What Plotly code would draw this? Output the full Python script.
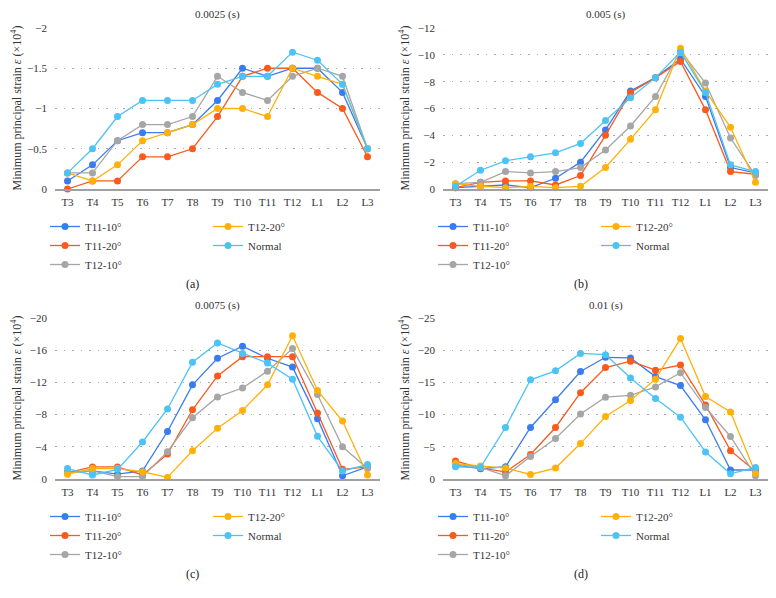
import plotly.graph_objects as go

# ==========================================
# Data (minimum principal strain, x10^4)
# ==========================================
levels = ["T3", "T4", "T5", "T6", "T7", "T8", "T9", "T10", "T11", "T12", "L1", "L2", "L3"]
series_names = ["T11-10°", "T11-20°", "T12-10°", "T12-20°", "Normal"]
panel_titles = ["0.0025 (s)", "0.005 (s)", "0.0075 (s)", "0.01 (s)"]
panel_labels = ["(a)", "(b)", "(c)", "(d)"]

# (a) 0.0025 s
a_t11_10 = [-0.1, -0.3, -0.6, -0.7, -0.7, -0.8, -1.1, -1.5, -1.4, -1.5, -1.5, -1.2, -0.5]
a_t11_20 = [0.0, -0.1, -0.1, -0.4, -0.4, -0.5, -0.9, -1.4, -1.5, -1.5, -1.2, -1.0, -0.4]
a_t12_10 = [-0.2, -0.2, -0.6, -0.8, -0.8, -0.9, -1.4, -1.2, -1.1, -1.4, -1.5, -1.4, -0.5]
a_t12_20 = [-0.2, -0.1, -0.3, -0.6, -0.7, -0.8, -1.0, -1.0, -0.9, -1.5, -1.4, -1.3, -0.5]
a_normal = [-0.2, -0.5, -0.9, -1.1, -1.1, -1.1, -1.3, -1.4, -1.4, -1.7, -1.6, -1.3, -0.5]

# (b) 0.005 s
b_t11_10 = [-0.1, -0.2, -0.3, -0.1, -0.8, -2.0, -4.4, -7.3, -8.3, -9.7, -6.9, -1.6, -1.2]
b_t11_20 = [-0.1, -0.5, -0.6, -0.6, -0.3, -1.0, -4.0, -7.2, -8.3, -9.5, -5.9, -1.3, -1.1]
b_t12_10 = [-0.4, -0.5, -1.3, -1.2, -1.3, -1.6, -2.9, -4.7, -6.9, -10.3, -7.9, -3.8, -1.0]
b_t12_20 = [-0.4, -0.2, -0.1, -0.2, -0.1, -0.2, -1.6, -3.7, -5.9, -10.5, -7.3, -4.6, -0.5]
b_normal = [-0.2, -1.4, -2.1, -2.4, -2.7, -3.4, -5.1, -6.8, -8.3, -10.2, -7.2, -1.8, -1.3]

# (c) 0.0075 s
c_t11_10 = [-0.8, -1.0, -0.6, -1.0, -5.9, -11.7, -15.0, -16.5, -15.0, -13.9, -7.5, -0.4, -1.5]
c_t11_20 = [-0.8, -1.5, -1.5, -0.5, -3.1, -8.6, -12.8, -15.2, -15.2, -15.2, -8.2, -1.2, -1.5]
c_t12_10 = [-0.8, -1.0, -0.3, -0.3, -3.4, -7.6, -10.2, -11.3, -13.4, -16.2, -10.5, -4.0, -1.3]
c_t12_20 = [-0.6, -1.3, -1.3, -0.9, -0.2, -3.5, -6.3, -8.5, -11.7, -17.8, -11.0, -7.2, -0.5]
c_normal = [-1.3, -0.5, -1.2, -4.6, -8.7, -14.5, -16.9, -15.6, -14.4, -12.4, -5.3, -1.0, -1.8]

# (d) 0.01 s
d_t11_10 = [-2.1, -1.6, -1.9, -8.0, -12.3, -16.7, -18.9, -18.8, -15.9, -14.5, -9.2, -1.4, -1.4]
d_t11_20 = [-2.8, -1.7, -1.1, -3.8, -8.0, -13.4, -17.3, -18.3, -16.9, -17.7, -11.5, -4.4, -1.2]
d_t12_10 = [-2.3, -1.8, -0.5, -3.5, -6.3, -10.1, -12.7, -13.0, -14.3, -16.5, -11.1, -6.6, -0.5]
d_t12_20 = [-2.4, -2.0, -1.7, -0.7, -1.7, -5.5, -9.7, -12.2, -15.5, -21.8, -12.8, -10.4, -0.9]
d_normal = [-1.9, -1.8, -8.0, -15.4, -16.8, -19.5, -19.3, -15.7, -12.5, -9.6, -4.2, -0.8, -1.8]

panel_data = [
    [a_t11_10, a_t11_20, a_t12_10, a_t12_20, a_normal],
    [b_t11_10, b_t11_20, b_t12_10, b_t12_20, b_normal],
    [c_t11_10, c_t11_20, c_t12_10, c_t12_20, c_normal],
    [d_t11_10, d_t11_20, d_t12_10, d_t12_20, d_normal],
]
y_max = [-2, -12, -20, -25]
y_step = [0.5, 2, 4, 5]

# ==========================================
# Styling
# ==========================================
W, H = 776, 598
OFF = 8   # page body margin of the html file
FONT = "Liberation Serif"
TXT = "#333333"
colors = ["#3a7cf0", "#fa5a1c", "#a6a6a6", "#ffb10a", "#4cc3f5"]

# panel geometry in screen px: (left, right, top, bottom)
boxes = [
    (55, 380, 28, 189),
    (443, 768, 28, 189),
    (55, 380, 318, 479),
    (443, 768, 318, 479),
]

def px_x(v):
    return (v - OFF) / W

def px_y(v):
    return 1 - (v - OFF) / H

fig = go.Figure()
annotations = []
layout_axes = {}

for p in range(4):
    left, right, top, bottom = boxes[p]
    sfx = "" if p == 0 else str(p + 1)
    xa, ya = "x" + sfx, "y" + sfx

    for s in range(5):
        # first legend column: first three series, second column: last two
        leg_idx = 2 * p + (1 if s >= 3 else 0)
        leg = "legend" if leg_idx == 0 else "legend" + str(leg_idx + 1)
        fig.add_trace(go.Scatter(
            x=levels,
            y=panel_data[p][s],
            name=series_names[s],
            mode="lines+markers",
            line=dict(color=colors[s], width=1.3),
            marker=dict(color=colors[s], size=7),
            cliponaxis=False,
            xaxis=xa,
            yaxis=ya,
            legend=leg,
        ))

    layout_axes["xaxis" + sfx] = dict(
        domain=[px_x(left), px_x(right)],
        anchor=ya,
        type="category",
        range=[-0.5, 12.5],
        automargin=False,
        showgrid=False,
        showline=True,
        linecolor="#a0a0a0",
        linewidth=2,
        ticks="",
        ticklabelstandoff=2,
        tickfont=dict(family=FONT, size=11, color=TXT),
        zeroline=False,
    )
    layout_axes["yaxis" + sfx] = dict(
        domain=[px_y(bottom), px_y(top)],
        anchor=xa,
        range=[0, y_max[p]],
        dtick=y_step[p],
        tick0=0,
        automargin=False,
        showgrid=True,
        gridcolor="#a8a8a8",
        griddash="1.5px,7px",
        gridwidth=1,
        zeroline=False,
        showline=False,
        ticks="",
        ticklabelstandoff=7,
        tickfont=dict(family=FONT, size=11, color=TXT),
    )

    # legends: two columns under each panel
    for col, lx in enumerate([left - 10, left + 153]):
        leg_idx = 2 * p + col
        key = "legend" if leg_idx == 0 else "legend" + str(leg_idx + 1)
        layout_axes[key] = dict(
            x=px_x(lx), y=px_y(bottom + 23),
            xanchor="left", yanchor="top",
            orientation="v",
            bgcolor="rgba(0,0,0,0)",
            font=dict(family=FONT, size=11, color=TXT),
            itemwidth=30,
        )

    cx = (left + right) / 2
    annotations.append(dict(
        text=panel_titles[p], x=px_x(cx), y=px_y(top - 13),
        xref="paper", yref="paper", showarrow=False,
        xanchor="center", yanchor="middle",
        font=dict(family=FONT, size=11, color=TXT),
    ))
    annotations.append(dict(
        text=panel_labels[p], x=px_x(cx - 25), y=px_y(bottom + 95),
        xref="paper", yref="paper", showarrow=False,
        xanchor="center", yanchor="middle",
        font=dict(family=FONT, size=12, color="#222222"),
    ))
    annotations.append(dict(
        text="Minimum principal strain <i>ε</i> (×10<sup>4</sup>)",
        x=px_x(left - 39), y=px_y((top + bottom) / 2),
        xref="paper", yref="paper", showarrow=False, textangle=-90,
        xanchor="center", yanchor="middle",
        font=dict(family=FONT, size=12, color=TXT),
    ))

fig.update_layout(
    width=W,
    height=H,
    margin=dict(l=0, r=0, t=0, b=0, autoexpand=False),
    paper_bgcolor="white",
    plot_bgcolor="white",
    showlegend=True,
    annotations=annotations,
    **layout_axes,
)

fig.write_html("out.html")
